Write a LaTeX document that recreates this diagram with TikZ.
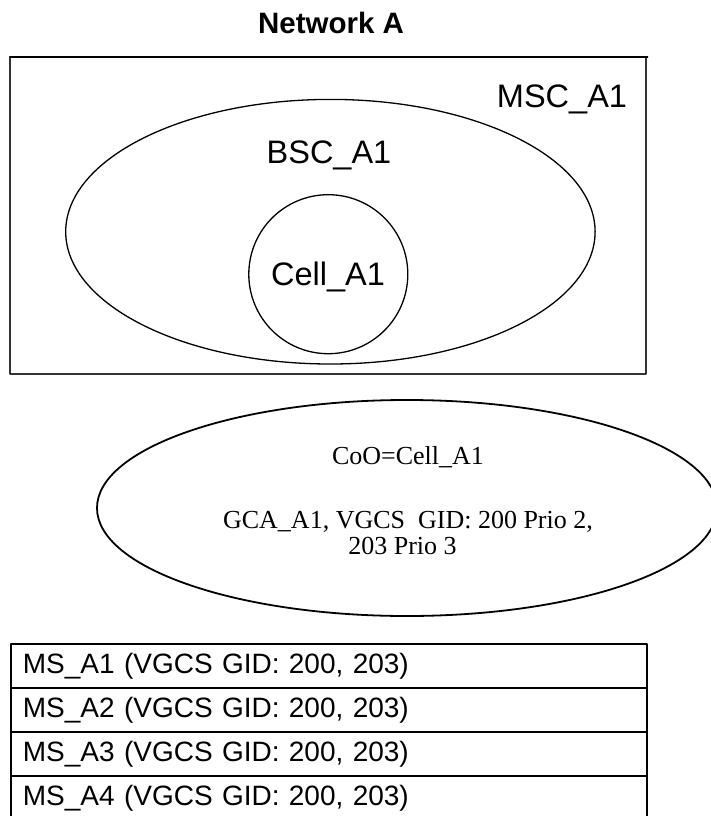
\documentclass[tikz,border=0pt]{standalone}
\usepackage{fontspec}
\setmainfont{Liberation Serif}
\setsansfont{Liberation Sans}
\usepackage{xcolor}
\usepackage{tikz}
\definecolor{framegray}{HTML}{333333}

\begin{document}
\begin{tikzpicture}[
    x=1pt,
    y=-1pt,
    every path/.style={line cap=round,line join=round},
    areatext/.style={
      inner sep=0pt,
      anchor=base,
      font=\sffamily\fontsize{32.5}{32.5}\selectfont
    },
    coonote/.style={
      inner sep=0pt,
      align=center,
      font=\rmfamily\fontsize{26}{26}\selectfont
    },
    msrow/.style={
      draw=black,
      line width=1.8pt,
      anchor=north west,
      minimum width=636pt,
      minimum height=44pt,
      text width=612pt,
      inner xsep=12pt,
      inner ysep=0pt,
      align=left,
      font=\sffamily\fontsize{28}{28}\selectfont
    }
  ]
    \useasboundingbox (0,0) rectangle (711,816);

    % Heading.
    \node[
      inner sep=0pt,
      anchor=base,
      font=\sffamily\bfseries\fontsize{29.5}{29.5}\selectfont
    ] (title) at (331,33.3) {Network A};

    % MSC area with the BSC ellipse and the cell circle inside.
    \draw[framegray,line width=2pt] (10,57.3) rectangle (645.5,374);
    \draw[black,line width=1.6pt] (10,57.3) -- (647.6,57.3);
    \draw[black,line width=1.3pt]
      (330.4,231.7) ellipse [x radius=264.7,y radius=132.3];
    \draw[black,line width=1.3pt] (328.3,274.2) circle (79.5);
    \node[areatext] (msc) at (562,107) {MSC\_A1};
    \node[areatext] (bsc) at (329,163) {BSC\_A1};
    \node[areatext] (cell) at (328,285) {Cell\_A1};

    % Group call area, cut off at the right edge.
    \draw[black,line width=1.8pt]
      (407,508) ellipse [x radius=310,y radius=108];
    \node[coonote,anchor=base] (coo) at (408,464) {CoO=Cell\_A1};
    \node[coonote,anchor=north] (gca) at (408,511)
      {GCA\_A1, VGCS\ \ GID: 200 Prio 2,\\203 Prio 3\kern11pt};

    % Mobile stations, one row each.
    \foreach \i/\y in {1/643,2/687,3/731,4/775}{%
      \node[msrow] (ms\i) at (10,\y) {MS\_A\i{} (VGCS GID: 200, 203)};
    }
  \end{tikzpicture}
\end{document}
